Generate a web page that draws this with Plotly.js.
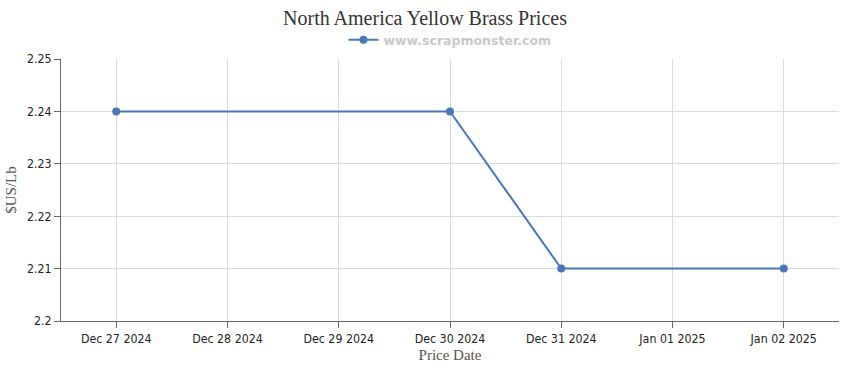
<!DOCTYPE html>
<html><head><meta charset="utf-8">
<script src="https://cdn.plot.ly/plotly-3.0.1.min.js"></script>
<style>html,body{margin:0;padding:0;background:#fff}#chart{width:850px;height:370px}</style>
</head><body><div id="chart"></div>
<script>
const dates = ["2024-12-27", "2024-12-30", "2024-12-31", "2025-01-02"];
const prices = [2.24, 2.24, 2.21, 2.21];
const tickDates = ["2024-12-27","2024-12-28","2024-12-29","2024-12-30","2024-12-31","2025-01-01","2025-01-02"];
const tickLabels = ["Dec 27 2024","Dec 28 2024","Dec 29 2024","Dec 30 2024","Dec 31 2024","Jan 01 2025","Jan 02 2025"];
const yTicks = [2.2, 2.21, 2.22, 2.23, 2.24, 2.25];
const yLabels = ["2.2","2.21","2.22","2.23","2.24","2.25"];
const seriesName = "www.scrapmonster.com";

const trace = {
  x: dates, y: prices, type: "scatter", mode: "lines+markers", name: seriesName,
  line: {color: "#4a78b5", width: 2},
  marker: {color: "#4a78b5", size: 8},
  showlegend: true
};
const layout = {
  width: 850, height: 370,
  margin: {l: 61, r: 11, t: 59, b: 49},
  paper_bgcolor: "#fff", plot_bgcolor: "#fff",
  title: {text: "North America Yellow Brass Prices", x: 0.5, xanchor: "center", y: 0.952, yanchor: "middle",
    font: {family: "Liberation Serif, Times New Roman, serif", size: 20, color: "#333"}},
  showlegend: true,
  legend: {orientation: "h", x: 0.5, xanchor: "center", y: 1.072, yanchor: "middle",
    font: {family: "DejaVu Sans, Verdana, sans-serif", size: 12.5, color: "#c8c8c8", weight: "bold"},
    itemwidth: 30},
  xaxis: {
    type: "date", range: ["2024-12-26 12:05", "2025-01-02 11:55"],
    tickvals: tickDates, ticktext: tickLabels, tickmode: "array",
    showgrid: true, gridcolor: "#dcdcdc", gridwidth: 1,
    showline: true, linecolor: "#666", linewidth: 1,
    ticks: "outside", ticklen: 6, tickcolor: "#666",
    tickfont: {family: "DejaVu Sans Condensed, Tahoma, sans-serif", size: 12.3, color: "#222"},
    zeroline: false,
    title: {text: "Price Date", standoff: 4, font: {family: "Liberation Serif, Times New Roman, serif", size: 15, color: "#555"}}
  },
  yaxis: {
    range: [2.2, 2.25], tickmode: "array", tickvals: yTicks, ticktext: yLabels,
    showgrid: true, gridcolor: "#dcdcdc", gridwidth: 1,
    showline: true, linecolor: "#666", linewidth: 1,
    ticks: "outside", ticklen: 6, tickcolor: "#666",
    tickfont: {family: "DejaVu Sans Condensed, Tahoma, sans-serif", size: 12.3, color: "#222"},
    zeroline: false,
    title: {text: "$US/Lb", standoff: 6, font: {family: "Liberation Serif, Times New Roman, serif", size: 15, color: "#555"}}
  }
};
Plotly.newPlot("chart", [trace], layout, {displayModeBar: false, staticPlot: true});
</script></body></html>
